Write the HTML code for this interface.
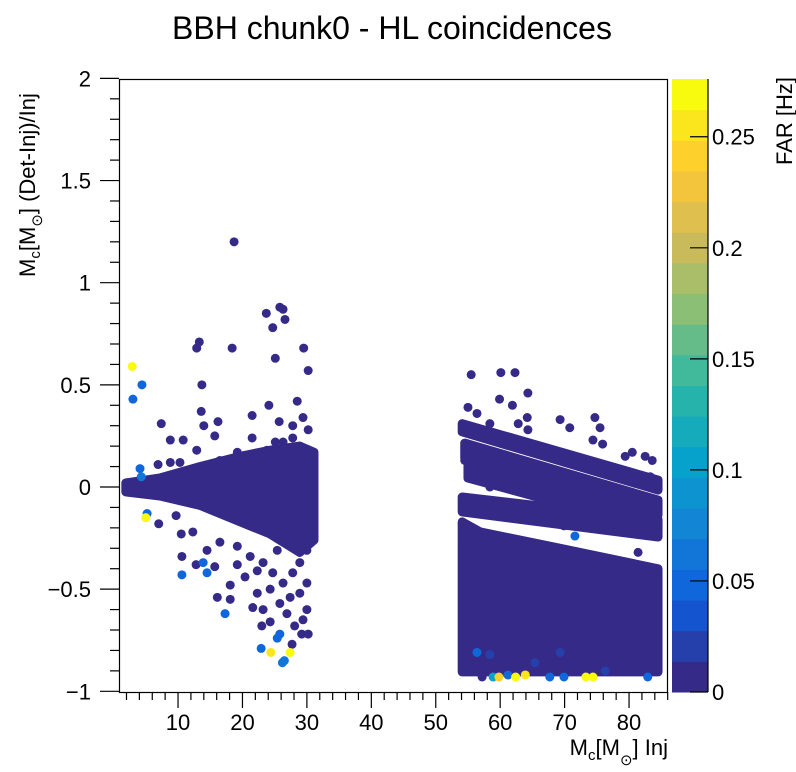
<!DOCTYPE html>
<html><head><meta charset="utf-8"><style>
html,body{margin:0;padding:0;background:#fff;}
svg{display:block;font-family:"Liberation Sans",sans-serif;}
</style></head><body>
<svg id="c" width="796" height="772" viewBox="0 0 796 772">
<rect x="0" y="0" width="796" height="772" fill="#fff"/>
<text x="392" y="39" font-size="32" text-anchor="middle">BBH chunk0 - HL coincidences</text>
<g id="plot"></g>
<rect x="119.5" y="79.5" width="548" height="613" fill="none" stroke="#000" stroke-width="1.2"/>
<g id="axes"></g>
<g id="cbar"></g>
<line x1="708" y1="79" x2="708" y2="692" stroke="#000" stroke-width="1.2"/>
<g id="cbaxis"></g>
<text transform="translate(792,77) rotate(-90)" font-size="22" text-anchor="end">FAR [Hz]</text>
<text transform="translate(35,277) rotate(-90)" font-size="22">M<tspan font-size="15" dy="5">c</tspan><tspan dy="-5">[M</tspan><tspan font-size="15" dy="7">⊙</tspan><tspan dy="-7">] (Det-Inj)/Inj</tspan></text>
<text x="668" y="755" font-size="22" text-anchor="end">M<tspan font-size="15" dy="5">c</tspan><tspan dy="-5">[M</tspan><tspan font-size="15" dy="10">⊙</tspan><tspan dy="-10">] Inj</tspan></text>
</svg>
<script>
const xTicks=[10,20,30,40,50,60,70,80];
const yTicks=[-1,-0.5,0,0.5,1,1.5,2];
const yTickLabels=["−1","−0.5","0","0.5","1","1.5","2"];
const farTicks=[0,0.05,0.1,0.15,0.2,0.25];
const farTickLabels=["0","0.05","0.1","0.15","0.2","0.25"];
// dense regions (x,y vertices in data units)
const leftCore=[[1.9,0.02],[7.2,0.044],[13.4,0.10],[19.6,0.15],[24.3,0.18],[28.9,0.20],[31.1,0.17],[31.1,-0.26],[28.9,-0.32],[24.3,-0.23],[19.6,-0.17],[13.4,-0.09],[7.2,-0.044],[1.9,-0.024]];
const bandA=[[54.1,0.31],[84.5,0.034],[84.5,-0.015],[54.1,0.27]];
const bandB=[[54.5,0.215],[84.5,-0.064],[84.5,-0.137],[54.5,0.142]];
const bandC=[[55.0,0.103],[84.5,-0.16],[84.5,-0.21],[55.0,0.044]];
const bandD=[[54.1,-0.049],[84.5,-0.16],[84.5,-0.245],[54.1,-0.122]];
const bottomBlob=[[54.1,-0.171],[56.9,-0.22],[69.3,-0.30],[84.5,-0.40],[84.5,-0.905],[54.1,-0.905]];
const regions=[leftCore,bandA,bandB,bandC,bandD,bottomBlob];
// scattered points
const ptX=[18.7,25.8,26.3,23.7,26.6,24.7,13.3,12.9,18.4,29.5,25.1,30.2,2.9,4.4,3.0,13.7,24.1,28.5,13.6,21.5,7.4,14.0,16.2,25.7,27.8,29.4,30.2,8.8,10.8,15.7,21.5,25.1,27.8,4.1,4.3,5.0,5.2,7.0,9.7,10.5,10.6,10.6,13.9,14.5,12.8,15.7,12.3,14.5,18.1,19.2,20.4,16.1,18.1,17.3,22.3,21.6,23.2,24.3,23.0,24.3,26.3,27.4,28.9,30.0,26.9,28.1,29.4,30.2,29.2,25.4,25.8,27.7,22.9,24.4,27.4,26.2,26.5,30.0,28.9,25.4,23.2,21.2,19.2,16.5,27.8,24.7,22.3,30.0,25.8,16.5,19.2,23.8,26.3,28.9,12.9,10.3,8.8,6.9,55.5,60.1,62.3,64.3,59.9,61.9,55.0,56.4,64.2,69.3,74.7,75.5,58.4,62.8,64.3,70.8,74.4,75.9,80.5,82.5,83.6,79.4,61.8,54.5,75.8,83.3,76.6,80.5,83.3,61.8,62.6,67.7,69.9,71.6,58.4,84.3,81.4,71.9,80.5,77.0,66.6,67.7,64.2,57.2,58.9,59.8,61.2,62.4,63.9,67.7,69.9,73.3,74.4,82.9,56.4,58.4,65.4,69.3,76.3];
const ptY=[1.20,0.88,0.87,0.85,0.82,0.78,0.71,0.68,0.68,0.68,0.63,0.57,0.59,0.50,0.43,0.50,0.40,0.42,0.37,0.35,0.31,0.30,0.32,0.32,0.30,0.34,0.28,0.23,0.23,0.25,0.24,0.22,0.24,0.09,0.05,-0.15,-0.13,-0.18,-0.14,-0.23,-0.34,-0.43,-0.37,-0.42,-0.38,-0.39,-0.22,-0.31,-0.48,-0.38,-0.44,-0.54,-0.55,-0.62,-0.52,-0.59,-0.60,-0.50,-0.68,-0.66,-0.47,-0.54,-0.52,-0.60,-0.62,-0.68,-0.65,-0.72,-0.72,-0.74,-0.72,-0.77,-0.79,-0.81,-0.81,-0.86,-0.85,-0.31,-0.37,-0.31,-0.37,-0.34,-0.29,-0.27,-0.42,-0.42,-0.41,-0.47,-0.57,0.13,0.17,0.18,0.22,0.20,0.18,0.12,0.12,0.11,0.55,0.56,0.56,0.46,0.43,0.40,0.39,0.36,0.34,0.33,0.34,0.29,0.31,0.31,0.28,0.29,0.23,0.21,0.17,0.15,0.13,0.15,0.24,0.13,0.08,0.05,0.0,-0.07,-0.10,-0.10,-0.15,-0.15,-0.19,-0.24,0.0,-0.19,-0.32,-0.46,-0.45,-0.43,-0.36,-0.41,-0.34,-0.93,-0.93,-0.93,-0.92,-0.93,-0.92,-0.93,-0.93,-0.93,-0.93,-0.93,-0.81,-0.82,-0.86,-0.81,-0.90];
const ptFar=[0,0,0,0,0,0,0,0,0,0,0,0,0.27,0.05,0.05,0,0,0,0,0,0,0,0,0,0,0,0,0,0,0,0,0,0,0.05,0.06,0.27,0.05,0,0,0,0,0.05,0.05,0.05,0,0,0,0,0,0,0,0,0,0.05,0,0,0,0,0,0,0,0,0,0,0,0,0,0,0,0.05,0.05,0,0.05,0.26,0.27,0.06,0.06,0,0,0,0,0,0,0,0,0,0,0,0,0,0,0,0,0,0,0,0,0,0,0,0,0,0,0,0,0,0,0,0,0,0,0,0,0,0,0,0,0,0,0,0,0,0,0,0,0,0,0,0,0,0,0.05,0,0,0,0,0,0,0,0,0,0,0.11,0.24,0.05,0.27,0.26,0.05,0.05,0.27,0.27,0.05,0.05,0.02,0.02,0.02,0.02,0.02];
const X0=113.6,XS=6.443,Y0=487,YS=204.3;
const sx=v=>X0+v*XS, sy=v=>Y0-v*YS;
const FARMAX=0.276, CB_TOP=79, CB_BOT=692, NBANDS=20;
const sf=v=>CB_BOT-v/FARMAX*(CB_BOT-CB_TOP);
const pal=[[0,[53,42,135]],[0.125,[15,92,221]],[0.25,[20,129,214]],[0.375,[6,164,202]],[0.5,[46,183,164]],[0.625,[135,191,119]],[0.75,[209,187,89]],[0.875,[254,200,50]],[1,[249,251,14]]];
function colT(t){t=Math.max(0,Math.min(1,t));for(let i=1;i<pal.length;i++){if(t<=pal[i][0]){const a=pal[i-1],b=pal[i],u=(t-a[0])/(b[0]-a[0]);return 'rgb('+a[1].map((c,k)=>Math.round(c+(b[1][k]-c)*u)).join(',')+')';}}return 'rgb(249,251,14)';}
function col(f){const b=Math.min(NBANDS-1,Math.floor(f/FARMAX*NBANDS));return colT(b/(NBANDS-1));}
const NS='http://www.w3.org/2000/svg';
function mk(tag,attrs,parent){const e=document.createElementNS(NS,tag);for(const k in attrs)e.setAttribute(k,attrs[k]);parent.appendChild(e);return e;}
const plot=document.getElementById('plot');
const navy=col(0);
regions.forEach((r,i)=>{
  const p=mk('polygon',{points:r.map(q=>sx(q[0])+','+sy(q[1])).join(' '),fill:navy,stroke:navy,'stroke-width':9,'stroke-linejoin':'round'},plot);
  
  
});
const order=ptX.map((_,i)=>i).sort((a,b)=>ptFar[a]-ptFar[b]);
order.forEach(i=>{
  const c=mk('circle',{cx:sx(ptX[i]),cy:sy(ptY[i]),r:4.5,fill:col(ptFar[i])},plot);
  
  
});
const cbar=document.getElementById('cbar');
const bh=(CB_BOT-CB_TOP)/NBANDS;
for(let b=0;b<NBANDS;b++){
  const r=mk('rect',{x:672,y:CB_BOT-(b+1)*bh,width:36,height:bh+0.5,fill:colT(b/(NBANDS-1))},cbar);
  
  
}
const ax=document.getElementById('axes');
for(let v=2;v<=86;v+=2){if(sx(v)<=120||sx(v)>=668)continue;const big=v%10===0;
  const t=mk('line',{x1:sx(v),x2:sx(v),y1:692,y2:692+(big?16:8),stroke:'#000','stroke-width':1.2},ax);
  }
xTicks.forEach(v=>{const t=mk('text',{x:sx(v),y:730,'font-size':22,'text-anchor':'middle'},ax);t.textContent=v;
  });
for(let k=-10;k<=20;k++){const v=k/10,big=k%5===0;
  const t=mk('line',{x1:119,x2:119-(big?19:9),y1:sy(v),y2:sy(v),stroke:'#000','stroke-width':1.2},ax);
  }
yTicks.forEach((v,i)=>{const t=mk('text',{x:91,y:sy(v)+8,'font-size':22,'text-anchor':'end'},ax);t.textContent=yTickLabels[i];
  });
const cb=document.getElementById('cbaxis');
farTicks.forEach((v,i)=>{
  const l=mk('line',{x1:708,x2:690,y1:sf(v),y2:sf(v),stroke:'#000','stroke-width':1.2},cb);
  
  const t=mk('text',{x:712,y:sf(v)+8,'font-size':22},cb);t.textContent=farTickLabels[i];
  });
</script>
</body></html>
